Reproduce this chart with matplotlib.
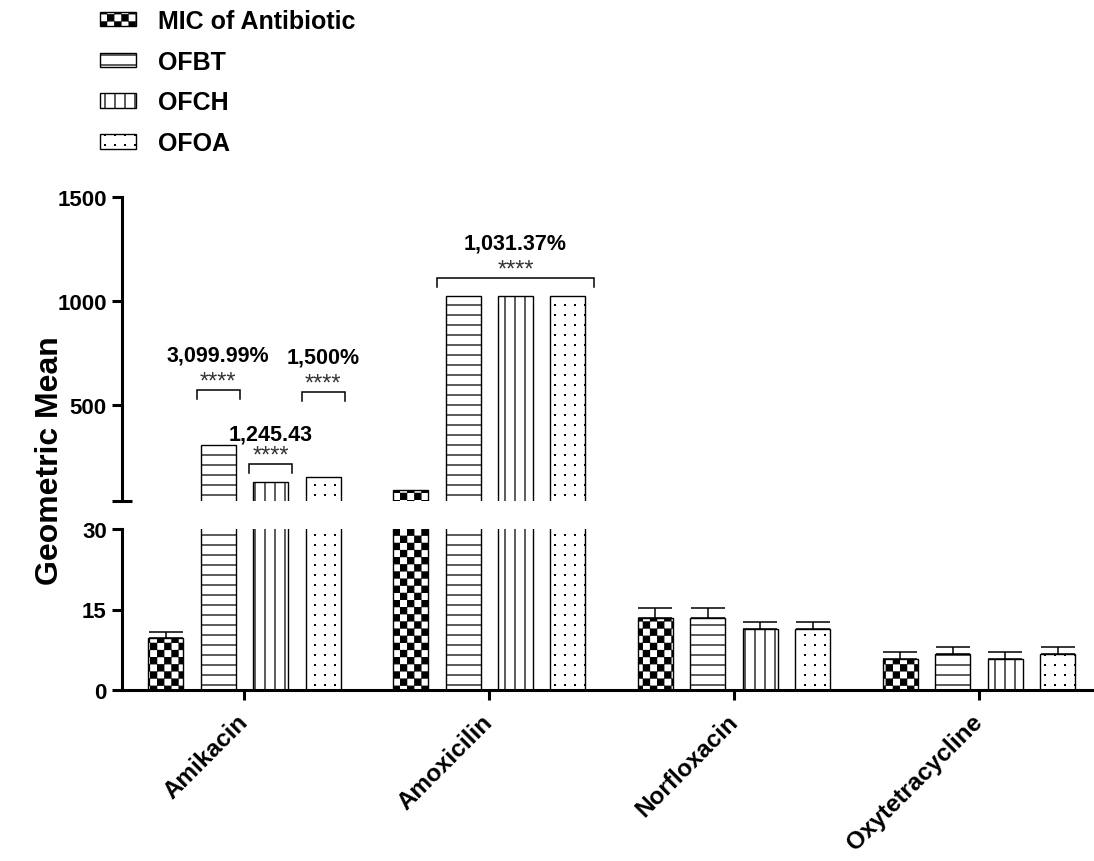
import warnings
warnings.filterwarnings('ignore')
import numpy as np
import matplotlib
matplotlib.use('Agg')
import matplotlib.pyplot as plt
import matplotlib.hatch as mhatch
from matplotlib.path import Path

# ---------------- data ----------------
antibiotics = ['Amikacin', 'Amoxicilin', 'Norfloxacin', 'Oxytetracycline']
series_names = ['MIC of Antibiotic', 'OFBT', 'OFCH', 'OFOA']
mic = [9.6, 90.5, 13.4, 5.7]
ofbt = [307.0, 1024.0, 13.4, 6.7]
ofch = [129.0, 1024.0, 11.3, 5.7]
ofoa = [154.0, 1024.0, 11.3, 6.7]
mic_err = [1.2, 0.0, 1.9, 1.3]
ofbt_err = [0.0, 0.0, 1.9, 1.3]
ofch_err = [0.0, 0.0, 1.4, 1.3]
ofoa_err = [0.0, 0.0, 1.4, 1.3]
upper_ticks = [500, 1000, 1500]
lower_ticks = [0, 15, 30]
ann_labels = ['3,099.99%', '1,245.43', '1,500%', '1,031.37%']
ann_group = [0, 0, 0, 1]
ann_first = [1, 2, 3, 1]
ann_last = [1, 2, 3, 3]

# ---------------- custom hatches ----------------
class _Checker(mhatch.HatchPatternBase):
    filled = True
    def __init__(self, hatch, density):
        self.n = 14 if 'c' in hatch else 0
        self.num_vertices = (self.n * self.n // 2) * 5
    def set_vertices_and_codes(self, vertices, codes):
        s = 1.0 / self.n
        e = 0.005
        k = 0
        for i in range(self.n):
            for j in range(self.n):
                if (i + j) % 2 == 0:
                    x0, y0 = i * s + e, j * s + e
                    x1, y1 = (i + 1) * s - e, (j + 1) * s - e
                    vertices[k:k + 5] = [(x0, y0), (x1, y0), (x1, y1), (x0, y1), (x0, y0)]
                    codes[k:k + 5] = [Path.MOVETO, Path.LINETO, Path.LINETO, Path.LINETO, Path.CLOSEPOLY]
                    k += 5

class _HLines(mhatch.HatchPatternBase):
    def __init__(self, hatch, density):
        self.n = 10 if 'h' in hatch else 0
        self.num_vertices = self.n * 2
    def set_vertices_and_codes(self, vertices, codes):
        steps = (np.arange(self.n) + 0.5) / self.n
        vertices[0::2, 0] = 0.0
        vertices[0::2, 1] = steps
        vertices[1::2, 0] = 1.0
        vertices[1::2, 1] = steps
        codes[0::2] = Path.MOVETO
        codes[1::2] = Path.LINETO

class _VLines(mhatch.HatchPatternBase):
    def __init__(self, hatch, density):
        self.n = 10 if 'v' in hatch else 0
        self.num_vertices = self.n * 2
    def set_vertices_and_codes(self, vertices, codes):
        steps = (np.arange(self.n) + 0.5) / self.n
        vertices[0::2, 0] = steps
        vertices[0::2, 1] = 0.0
        vertices[1::2, 0] = steps
        vertices[1::2, 1] = 1.0
        codes[0::2] = Path.MOVETO
        codes[1::2] = Path.LINETO

class _Dots(mhatch.HatchPatternBase):
    filled = True
    def __init__(self, hatch, density):
        self.n = 10 if 'd' in hatch else 0
        self.num_vertices = self.n * self.n * 5
    def set_vertices_and_codes(self, vertices, codes):
        s = 1.0 / self.n
        r = 0.003
        k = 0
        for i in range(self.n):
            for j in range(self.n):
                cx, cy = (i + 0.5) * s, (j + 0.5) * s
                vertices[k:k + 5] = [(cx - r, cy - r), (cx + r, cy - r), (cx + r, cy + r), (cx - r, cy + r), (cx - r, cy - r)]
                codes[k:k + 5] = [Path.MOVETO, Path.LINETO, Path.LINETO, Path.LINETO, Path.CLOSEPOLY]
                k += 5

mhatch._hatch_types.extend([_Checker, _HLines, _VLines, _Dots])

# ---------------- style ----------------
plt.rcParams['font.family'] = ['Liberation Sans', 'DejaVu Sans']
plt.rcParams['font.weight'] = 'bold'
plt.rcParams['hatch.linewidth'] = 0.9

W_PX, H_PX = 1094, 862
fig = plt.figure(figsize=(W_PX / 100, H_PX / 100), dpi=100)

left = 122 / W_PX
width = 1 - left
ax_up = fig.add_axes([left, (H_PX - 502) / H_PX, width, (502 - 198) / H_PX])
ax_lo = fig.add_axes([left, (H_PX - 691) / H_PX, width, (691 - 530) / H_PX])

x = np.arange(len(antibiotics))
step = 0.2143
bw = 0.143
series = [mic, ofbt, ofch, ofoa]
errs = [mic_err, ofbt_err, ofch_err, ofoa_err]
hatches = ['c', 'h', 'v', 'd']

legend_handles = []
for ax in (ax_up, ax_lo):
    for k, (vals, er, h) in enumerate(zip(series, errs, hatches)):
        pos = x + (k - 1.5) * step
        bars = ax.bar(pos, vals, bw, facecolor='white', edgecolor='black',
                      linewidth=1.0, hatch=h, zorder=2)
        if ax is ax_lo:
            legend_handles.append(bars)
        vals_a = np.asarray(vals)
        er_a = np.asarray(er)
        m = er_a > 0
        if m.any():
            ax.errorbar(pos[m], vals_a[m], yerr=[np.zeros(m.sum()), er_a[m]],
                        fmt='none', ecolor='black', elinewidth=1.1,
                        capsize=12, capthick=1.1, zorder=3)

xlim = (-0.5, 3.47)
for ax in (ax_up, ax_lo):
    ax.set_xlim(*xlim)
    for s in ('top', 'right'):
        ax.spines[s].set_visible(False)
    ax.spines['left'].set_linewidth(2.2)
    ax.tick_params(axis='y', width=2.2, length=7.5, labelsize=16, pad=3.5)

ax_up.set_ylim(40, 1500)
ax_up.spines['bottom'].set_visible(False)
ax_up.set_xticks([])
ax_up.set_yticks(upper_ticks)
ax_up.set_yticks([40], minor=True)
ax_up.tick_params(axis='y', which='minor', direction='inout', length=14, width=2.2)

ax_lo.set_ylim(0, 30)
ax_lo.spines['bottom'].set_linewidth(2.2)
ax_lo.set_yticks(lower_ticks)
ax_lo.set_yticks([30], minor=True)
ax_lo.tick_params(axis='y', which='minor', direction='inout', length=12, width=2.2)
ax_lo.set_xticks(x)
ax_lo.set_xticklabels(antibiotics, rotation=45, ha='right', va='center',
                      rotation_mode='anchor', fontsize=17.5)
ax_lo.tick_params(axis='x', width=2.2, length=7, pad=13)

# significance brackets
leg_len = 43
bracket_top = [572, 216, 562, 1110]
label_off = [21.6, 18.0, 21.6, 21.6]
for lab, g, a, b, yt, lo in zip(ann_labels, ann_group, ann_first, ann_last, bracket_top, label_off):
    xa = g + (a - 1.5) * step
    xb = g + (b - 1.5) * step
    pad = 0.088 if a == b else 0.108
    x0, x1 = xa - pad, xb + pad
    ax_up.plot([x0, x0, x1, x1], [yt - leg_len, yt, yt, yt - leg_len],
               color='black', lw=1.1, solid_joinstyle='miter', zorder=4)
    xc = (x0 + x1) / 2
    ax_up.annotate('****', (xc, yt), xytext=(0, 2), textcoords='offset points',
                   ha='center', va='baseline', fontsize=17, fontweight='normal',
                   color='#333333')
    ax_up.annotate(lab, (xc, yt), xytext=(0, lo), textcoords='offset points',
                   ha='center', va='baseline', fontsize=15.5, fontweight='bold')

fig.text(50 / W_PX, 1 - 461 / H_PX, 'Geometric Mean', rotation=90,
         ha='center', va='center', fontsize=23, fontweight='bold')

fig.legend(legend_handles, series_names, loc='upper left',
           bbox_to_anchor=(100 / W_PX, 1 - 10 / H_PX), frameon=False,
           fontsize=18, handlelength=1.44, handleheight=0.52,
           handletextpad=0.88, labelspacing=0.67, borderpad=0, borderaxespad=0)

fig.savefig('out.png', dpi=100)
